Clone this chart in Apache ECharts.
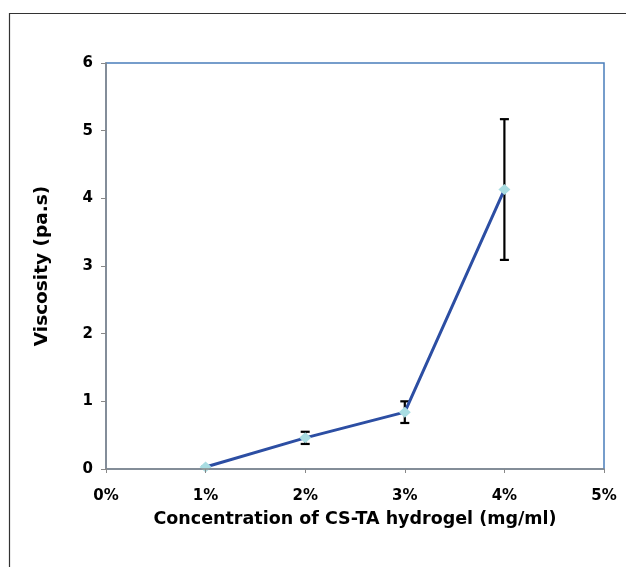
<!DOCTYPE html>
<html lang="en">
<head>
    <meta charset="UTF-8">
    <title>Viscosity</title>
    <script src="https://cdn.jsdelivr.net/npm/echarts@6/dist/echarts.min.js"></script>
    <style>
        html, body { margin: 0; padding: 0; background: #fff; }
    </style>
</head>
<body>
<div id="main" style="width: 626px;height:567px;"></div>
<script>
    // data
    var concentration = [1, 2, 3, 4];          // %
    var viscosity = [0.03, 0.46, 0.84, 4.13];   // pa.s
    var errorSize = [0, 0.09, 0.16, 1.04];

    var lineData = concentration.map(function (c, i) { return [c, viscosity[i]]; });
    var errData = concentration.map(function (c, i) {
        return [c, viscosity[i] - errorSize[i], viscosity[i] + errorSize[i]];
    });

    var font = '"DejaVu Sans", Arial, sans-serif';
    var chart = echarts.init(document.getElementById('main'));

    var option = {
        backgroundColor: '#fff',
        animation: false,
        graphic: [{
            type: 'rect',
            shape: { x: 9.5, y: 13.5, width: 800, height: 800 },
            style: { fill: 'none', stroke: '#333', lineWidth: 1.2 }
        }],
        grid: {
            left: 106, top: 63, right: 22, bottom: 98,
            show: true, borderColor: '#4a7ebb', borderWidth: 1.5
        },
        xAxis: {
            type: 'value',
            min: 0, max: 5, interval: 1,
            name: 'Concentration of CS-TA hydrogel (mg/ml)',
            nameLocation: 'middle',
            nameGap: 41,
            nameTextStyle: { fontFamily: font, fontWeight: 'bold', fontSize: 17.5, color: '#000' },
            axisLine: { lineStyle: { color: '#888', width: 1.5 } },
            axisTick: { show: true, inside: false, length: 4, lineStyle: { color: '#888' } },
            axisLabel: {
                formatter: '{value}%', margin: 20,
                fontFamily: font, fontWeight: 'bold', fontSize: 15, color: '#000'
            },
            splitLine: { show: false },
            z: 5
        },
        yAxis: {
            type: 'value',
            min: 0, max: 6, interval: 1,
            name: 'Viscosity (pa.s)',
            nameLocation: 'middle',
            nameGap: 54,
            nameTextStyle: { fontFamily: font, fontWeight: 'bold', fontSize: 18.5, color: '#000' },
            axisLine: { show: true, lineStyle: { color: '#888', width: 1.5 } },
            axisTick: { show: true, length: 5, lineStyle: { color: '#888' } },
            axisLabel: {
                margin: 13,
                fontFamily: font, fontWeight: 'bold', fontSize: 15, color: '#000'
            },
            splitLine: { show: false },
            z: 5
        },
        series: [
            {
                type: 'custom',
                z: 3,
                data: errData,
                renderItem: function (params, api) {
                    var x = api.value(0);
                    var lo = api.coord([x, api.value(1)]);
                    var hi = api.coord([x, api.value(2)]);
                    var cap = 4.5;
                    var st = { stroke: '#000', lineWidth: 2.2 };
                    return {
                        type: 'group',
                        children: [
                            { type: 'line', shape: { x1: hi[0], y1: hi[1], x2: lo[0], y2: lo[1] }, style: st },
                            { type: 'line', shape: { x1: hi[0] - cap, y1: hi[1], x2: hi[0] + cap, y2: hi[1] }, style: st },
                            { type: 'line', shape: { x1: lo[0] - cap, y1: lo[1], x2: lo[0] + cap, y2: lo[1] }, style: st }
                        ]
                    };
                }
            },
            {
                type: 'line',
                z: 4,
                data: lineData,
                symbol: 'diamond',
                symbolSize: [12, 11],
                lineStyle: { color: '#2c4ea3', width: 3 },
                itemStyle: { color: '#a9dde2' }
            }
        ]
    };
    chart.setOption(option);
</script>
</body>
</html>
